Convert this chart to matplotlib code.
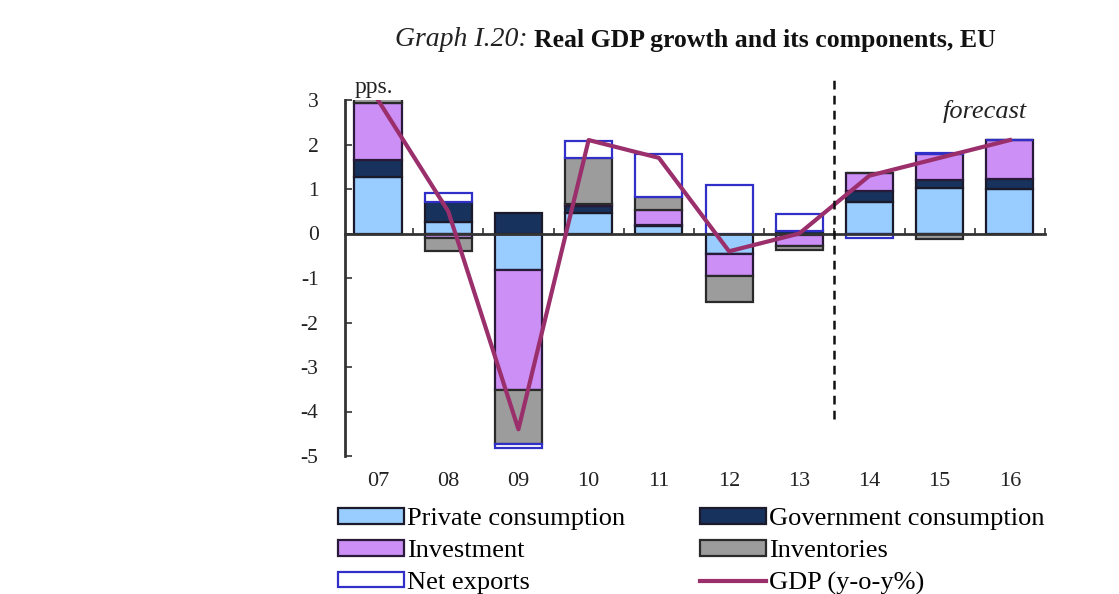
import numpy as np
import matplotlib
matplotlib.use("Agg")
import matplotlib.pyplot as plt
from matplotlib.patches import Patch
from matplotlib.lines import Line2D
import matplotlib.transforms as mtransforms

#
# Data (pps. contributions to real GDP growth, EU)
#
years       = ['07', '08', '09', '10', '11', '12', '13', '14', '15', '16']
private     = [1.26, 0.25, -0.82, 0.45, 0.16, -0.45, -0.03, 0.71, 1.03, 1.00]
government  = [0.40, 0.46, 0.45, 0.17, 0.04, -0.02, 0.05, 0.24, 0.17, 0.22]
investment  = [1.28, -0.10, -2.70, 0.05, 0.32, -0.49, -0.25, 0.40, 0.58, 0.89]
inventories = [0.11, -0.30, -1.20, 1.02, 0.30, -0.58, -0.08, 0.00, -0.12, 0.00]
net_exports = [0.00, 0.19, -0.11, 0.38, 0.96, 1.09, 0.38, -0.10, 0.02, 0.00]
gdp         = [3.0, 0.5, -4.4, 2.1, 1.7, -0.4, 0.0, 1.3, 1.7, 2.1]

labels = ['Private consumption', 'Government consumption', 'Investment',
          'Inventories', 'Net exports']
faces  = ['#99ccff', '#17325c', '#cc8ff5', '#9c9c9c', '#ffffff']
edges  = ['#1a1a2a', '#1a1a2a', '#2a1a3a', '#2a2a2a', '#3030c8']
gdp_color = '#9a2f6c'

serif = ['Liberation Serif', 'DejaVu Serif']
plt.rcParams['font.family'] = serif

fig = plt.figure(figsize=(11.19, 5.94), dpi=100)
ax = fig.add_axes([345/1119, 1 - 456/594, 700/1119, 356/594])

x = np.arange(len(years))
w = 0.67
pos = np.zeros(len(years))
neg = np.zeros(len(years))
series = [private, government, investment, inventories, net_exports]
for vals, fc, ec in zip(series, faces, edges):
    v = np.array(vals)
    base = np.where(v >= 0, pos, neg)
    ax.bar(x, v, w, bottom=base, color=fc, edgecolor=ec, linewidth=1.6, zorder=2)
    pos = pos + np.where(v >= 0, v, 0)
    neg = neg + np.where(v < 0, v, 0)

ax.plot(x, gdp, color=gdp_color, lw=3, zorder=4)

ax.set_xlim(-0.47, 9.5)
ax.set_ylim(-5, 3)

# axes styling
for s in ['top', 'right']:
    ax.spines[s].set_visible(False)
ax.spines['bottom'].set_position(('data', 0))
ax.spines['bottom'].set_zorder(3)
ax.spines['left'].set_linewidth(2)
ax.spines['bottom'].set_linewidth(2)
ax.spines['left'].set_color('#333333')
ax.spines['bottom'].set_color('#333333')

ax.set_yticks(range(-5, 4))
ax.set_yticklabels([str(i) for i in range(-5, 4)], fontsize=15.5, color='#222222')
ax.tick_params(axis='y', direction='in', length=5, width=1.2, pad=19, colors='#333333',
               labelcolor='#222222')

ax.set_xticks(np.arange(0.5, 9.6, 1.0))
ax.set_xticklabels([])
ax.tick_params(axis='x', direction='in', length=4, width=1.2, colors='#333333')

trans = mtransforms.blended_transform_factory(ax.transData, fig.transFigure)
for xi, lab in zip(x, years):
    ax.text(xi, 1 - 482/594, lab, transform=trans, ha='center', va='center',
            fontsize=16, color='#222222')

# forecast separator
ax.axvline(6.5, ymin=(-4.16 + 5) / 8, ymax=(3.45 + 5) / 8, color='#111111',
           lw=1.8, ls=(0, (3.5, 2.5)), clip_on=False, zorder=5)

ax.text(-0.33, 3.04, 'pps.', fontsize=17, va='bottom', ha='left', color='#222222')
ax.text(8.65, 2.74, 'forecast', fontsize=19, style='italic', ha='center', va='center',
        color='#222222')

# title
fig.text(528/1119, 1 - 40/594, 'Graph I.20:', fontsize=20, style='italic',
         ha='right', va='center', color='#222222')
fig.text(534/1119, 1 - 40/594, 'Real GDP growth and its components, EU', fontsize=18.5,
         weight='bold', ha='left', va='center', color='#111111')

# legend
handles = [Patch(facecolor=faces[i], edgecolor=edges[i], linewidth=1.6) for i in range(5)]
handles.append(Line2D([0], [0], color=gdp_color, lw=3))
names = labels + ['GDP (y-o-y%)']
order = [0, 2, 4, 1, 3, 5]
fig.legend([handles[i] for i in order], [names[i] for i in order],
           loc='upper left', bbox_to_anchor=(338/1119, 1 - 508/594), ncol=2,
           frameon=False, fontsize=19, handlelength=2.5, handleheight=0.55,
           handletextpad=0.12, labelspacing=0.36, columnspacing=2.83, borderpad=0,
           borderaxespad=0)

fig.savefig('out.png', dpi=100)
